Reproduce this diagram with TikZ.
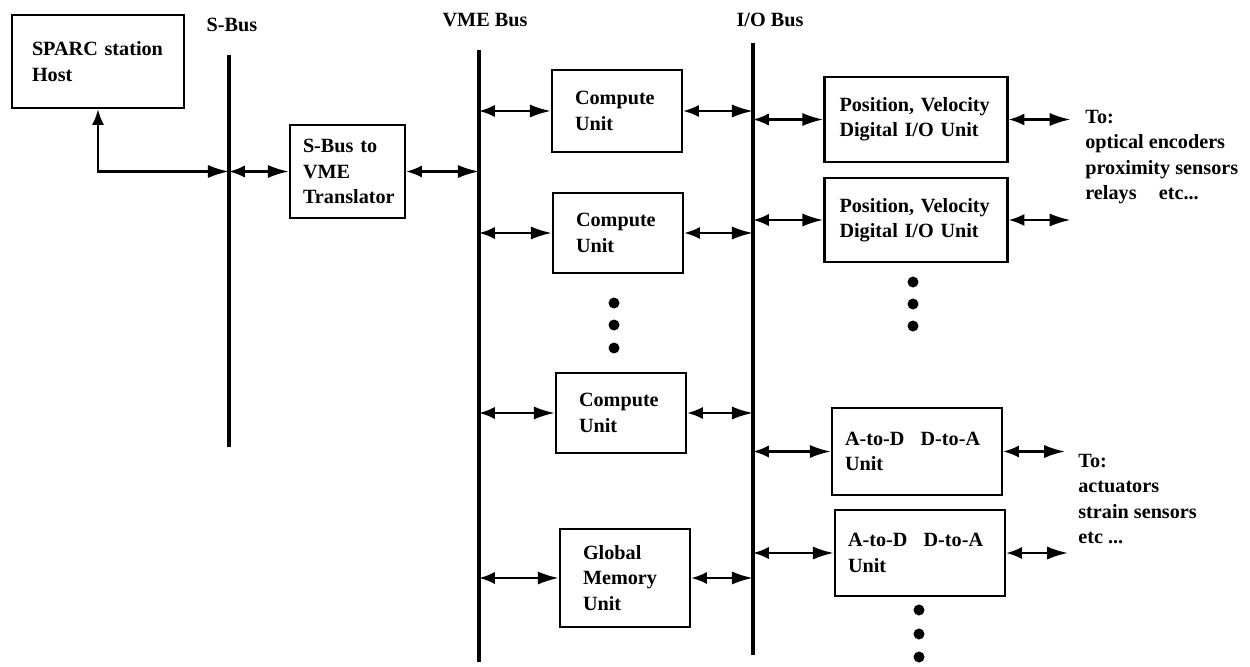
\documentclass[tikz,border=0pt]{standalone}
\usepackage{fontspec}
\setmainfont{Liberation Serif}
\usepackage{tikz}
\usetikzlibrary{arrows.meta, calc}

\begin{document}
\begin{tikzpicture}[x=0.02cm, y=-0.02cm, >=Latex,
    txt/.style={font=\fontsize{11.5}{14.4}\selectfont\bfseries},
    unit/.style={txt, draw, line width=1.3pt, align=left, anchor=center},
    bus/.style={line width=2.8pt},
    link/.style={{Latex[length=9pt,width=7pt]}-{Latex[length=12pt,width=7.5pt]}, line width=1.4pt}]
    \useasboundingbox (0,0) rectangle (1250,666);
    % buses
    \coordinate (sbus top) at (229,55);   \coordinate (sbus bot) at (229,447);
    \coordinate (vme top) at (479,50);    \coordinate (vme bot) at (479,662);
    \coordinate (iob top) at (753,43);    \coordinate (iob bot) at (753,655);
    \draw[bus] (sbus top) -- (sbus bot);
    \draw[bus] (vme top) -- (vme bot);
    \draw[bus] (iob top) -- (iob bot);
    \node[txt] (sbus lbl) at (232,25) {S-Bus};
    \node[txt] (vme lbl) at (485,20) {VME Bus};
    \node[txt] (iob lbl) at (770,20) {I/O Bus};
    % boxes
    \node[unit, minimum height=1.86cm, text width=2.64cm, inner xsep=0.4cm] (host) at (98,61.5) {SPARC station\\Host};
    \node[unit, minimum height=1.86cm, text width=1.78cm, inner xsep=0.26cm] (trans) at (347.5,171.5) {S-Bus to\\VME\\Translator};
    \node[unit, minimum height=1.64cm, text width=1.68cm, inner xsep=0.46cm] (cu1) at (617,111) {Compute\\Unit};
    \node[unit, minimum height=1.6cm, text width=1.68cm, inner xsep=0.46cm] (cu2) at (618,233) {Compute\\Unit};
    \node[unit, minimum height=1.6cm, text width=1.68cm, inner xsep=0.46cm] (cu3) at (621,413) {Compute\\Unit};
    \node[unit, minimum height=1.96cm, text width=1.68cm, inner xsep=0.46cm] (gm) at (625,578) {Global\\Memory\\Unit};
    \node[unit, minimum height=1.7cm, text width=3.06cm, inner xsep=0.3cm] (pv1) at (916,119.5) {Position, Velocity\\Digital I/O Unit};
    \node[unit, minimum height=1.68cm, text width=3.06cm, inner xsep=0.3cm] (pv2) at (916,220) {Position, Velocity\\Digital I/O Unit};
    \node[unit, minimum height=1.74cm, text width=2.88cm, inner xsep=0.26cm] (ad1) at (917,451.5) {A-to-D\hspace{0.8em}D-to-A\\Unit};
    \node[unit, minimum height=1.72cm, text width=2.88cm, inner xsep=0.26cm] (ad2) at (920,553) {A-to-D\hspace{0.8em}D-to-A\\Unit};
    \node[txt, align=left, anchor=north west, inner sep=0pt] (dig to) at (1085,110) {To:\\optical encoders\\proximity sensors\\relays\hspace{1.1em}etc...};
    \node[txt, align=left, anchor=north west, inner sep=0pt] (ana to) at (1078,454) {To:\\actuators\\strain sensors\\etc ...};
    % connections
    \coordinate (sjoin) at (trans.west -| sbus top);
    \draw[link] (host.south) |- (sjoin);
    \draw[link] (sjoin) -- (trans.west);
    \draw[link] (trans.east) -- (trans.east -| vme top);
    \foreach \u in {cu1,cu2,cu3,gm} {
        \draw[link] (\u.west -| vme top) -- (\u.west);
        \draw[link] (\u.east) -- (\u.east -| iob top);
    }
    \foreach \u in {pv1,pv2,ad1,ad2} {
        \draw[link] (\u.west -| iob top) -- (\u.west);
        \draw[link] (\u.east) -- ++(62,0);
    }
    % more of the same
    \foreach \y in {303,325,348} \fill (614,\y) circle[radius=0.11cm];
    \foreach \y in {282,304,326} \fill (913,\y) circle[radius=0.11cm];
    \foreach \y in {610,634,657} \fill (919,\y) circle[radius=0.11cm];
\end{tikzpicture}
\end{document}
